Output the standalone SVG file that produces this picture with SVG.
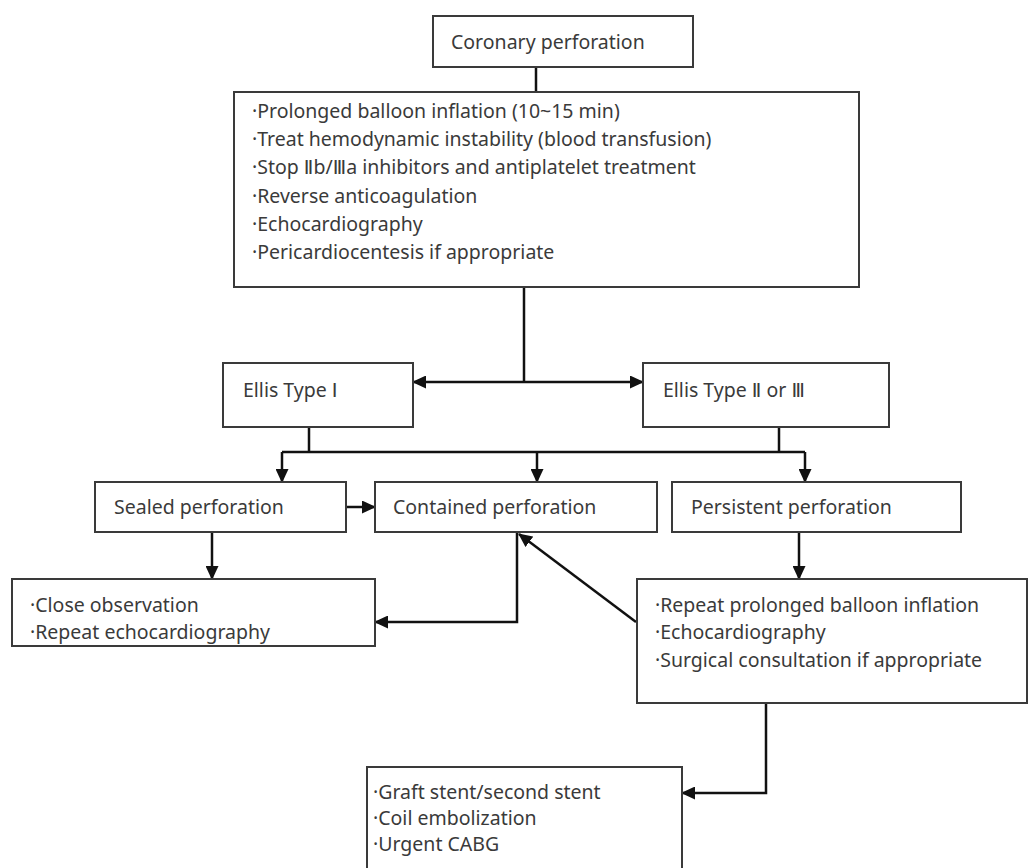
<svg xmlns="http://www.w3.org/2000/svg" width="1030" height="868" viewBox="0 0 1030 868">
<style>
.box{fill:#fff;stroke:#3a3a3a;stroke-width:2}
.t{font-family:"Noto Sans","Noto Sans CJK KR",sans-serif;font-size:19.5px;fill:#3a3a3a}
.r{font-family:"DejaVu Sans","Noto Sans CJK KR",sans-serif}
.c{fill:none;stroke:#111;stroke-width:2.5}
.a{marker-end:url(#ah)}
</style>
<defs>
<marker id="ah" markerWidth="14" markerHeight="13" refX="13" refY="6.5" orient="auto-start-reverse" markerUnits="userSpaceOnUse"><path d="M0,0 L14,6.5 L0,13 z" fill="#111"/></marker>
</defs>
<rect width="1030" height="868" fill="#fff"/>
<g id="connectors">
<path class="c" d="M536,67 V92"/>
<path class="c" d="M524,287 V382"/>
<path class="c" d="M413,382 H643" marker-start="url(#ah)" marker-end="url(#ah)"/>
<path class="c" d="M309,427 V452 M779,427 V452 M282,452 H805"/>
<path class="c a" d="M282,452 V482"/>
<path class="c a" d="M537,452 V482"/>
<path class="c a" d="M805,452 V482"/>
<path class="c a" d="M346,507 H375"/>
<path class="c a" d="M212,532 V579"/>
<path class="c a" d="M517,532 V622 H375"/>
<path class="c a" d="M636,622 L519,534"/>
<path class="c a" d="M799,532 V579"/>
<path class="c a" d="M766,703 V793 H682"/>
</g>
<g id="n1"><rect class="box" x="433" y="16" width="260" height="51"/><text class="t" x="451" y="49">Coronary perforation</text></g>
<g id="n2"><rect class="box" x="234" y="92" width="625" height="195"/>
<text class="t" x="252" y="118">·Prolonged balloon inflation (10~15 min)</text>
<text class="t" x="252" y="146">·Treat hemodynamic instability (blood transfusion)</text>
<text class="t" x="252" y="174">·Stop <tspan class="r">Ⅱ</tspan>b/<tspan class="r">Ⅲ</tspan>a inhibitors and antiplatelet treatment</text>
<text class="t" x="252" y="203">·Reverse anticoagulation</text>
<text class="t" x="252" y="231">·Echocardiography</text>
<text class="t" x="252" y="259">·Pericardiocentesis if appropriate</text></g>
<g id="n3"><rect class="box" x="223" y="363" width="190" height="64"/><text class="t" x="243" y="397">Ellis Type <tspan class="r">Ⅰ</tspan></text></g>
<g id="n4"><rect class="box" x="643" y="363" width="246" height="64"/><text class="t" x="663" y="397">Ellis Type <tspan class="r">Ⅱ</tspan> or <tspan class="r">Ⅲ</tspan></text></g>
<g id="n5"><rect class="box" x="95" y="482" width="251" height="50"/><text class="t" x="114" y="514">Sealed perforation</text></g>
<g id="n6"><rect class="box" x="375" y="482" width="282" height="50"/><text class="t" x="393" y="514">Contained perforation</text></g>
<g id="n7"><rect class="box" x="672" y="482" width="289" height="50"/><text class="t" x="691" y="514">Persistent perforation</text></g>
<g id="n8"><rect class="box" x="12" y="579" width="363" height="67"/>
<text class="t" x="30" y="612">·Close observation</text>
<text class="t" x="30" y="639">·Repeat echocardiography</text></g>
<g id="n9"><rect class="box" x="637" y="579" width="390" height="124"/>
<text class="t" x="655" y="612">·Repeat prolonged balloon inflation</text>
<text class="t" x="655" y="639">·Echocardiography</text>
<text class="t" x="655" y="667">·Surgical consultation if appropriate</text></g>
<g id="n10"><rect class="box" x="367" y="767" width="315" height="120"/>
<text class="t" x="373" y="799">·Graft stent/second stent</text>
<text class="t" x="373" y="825">·Coil embolization</text>
<text class="t" x="373" y="851">·Urgent CABG</text></g>
</svg>
